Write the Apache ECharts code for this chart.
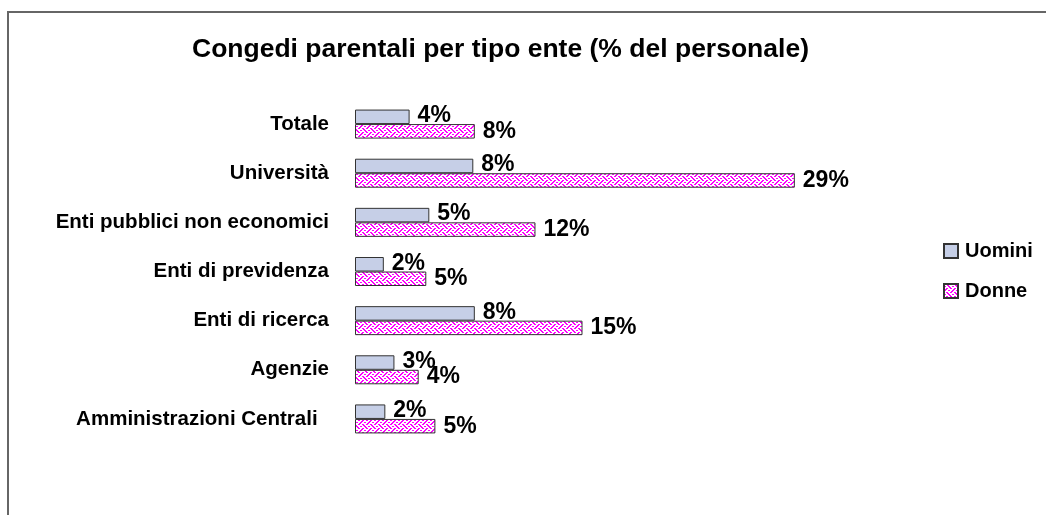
<!DOCTYPE html>
<html>
<head>
<meta charset="utf-8">
<style>
  html, body { margin: 0; padding: 0; background: #fff; }
  #chart { width: 1046px; height: 515px; }
</style>
<script src="https://cdn.jsdelivr.net/npm/echarts@6/dist/echarts.min.js"></script>
</head>
<body>
<div id="chart"></div>
<script>
// categorie, dall'alto verso il basso
const categories = ['Totale', 'Università', 'Enti pubblici non economici', 'Enti di previdenza', 'Enti di ricerca', 'Agenzie', 'Amministrazioni Centrali  '];
// valori in % del personale
const uomini = [3.6, 7.8, 4.9, 1.9, 7.9, 2.6, 2.0];
const donne = [7.9, 29.0, 11.9, 4.7, 15.0, 4.2, 5.3];
const seriesNames = ['Uomini', 'Donne'];

const FONT = "'Liberation Sans', Arial, sans-serif";

// trama "weave" (1 = bianco)
const WEAVE = [
    '10001000',
    '01000101',
    '00100010',
    '01010001',
    '10001000',
    '00010101',
    '00100010',
    '01010100'
];

function makePattern() {
    const c = document.createElement('canvas');
    c.width = 8;
    c.height = 8;
    const ctx = c.getContext('2d');
    ctx.fillStyle = '#ff00ff';
    ctx.fillRect(0, 0, 8, 8);
    ctx.fillStyle = '#ffffff';
    WEAVE.forEach((row, y) => {
        for (let x = 0; x < 8; x++) {
            if (row[x] === '1') {
                ctx.fillRect(x, y, 1, 1);
                ctx.fillRect((x + 1) % 8, y, 1, 1); // linee un po' piu' spesse
            }
        }
    });
    return c;
}

const pct = p => Math.round(p.value) + '%';

const chart = echarts.init(document.getElementById('chart'));
chart.setOption({
    animation: false,
    title: {
        text: 'Congedi parentali per tipo ente (% del personale)',
        left: 192,
        top: 36,
        padding: 0,
        textStyle: { fontFamily: FONT, fontSize: 26.5, fontWeight: 'bold', color: '#000' }
    },
    legend: {
        orient: 'vertical',
        left: 943,
        top: 241,
        padding: 0,
        icon: 'rect',
        itemWidth: 14,
        itemHeight: 14,
        itemGap: 20,
        textStyle: { fontFamily: FONT, fontSize: 20, fontWeight: 'bold', color: '#000', padding: [0, 0, 0, 2] },
        data: seriesNames
    },
    grid: { left: 355, top: 99.5, width: 455, height: 344, containLabel: false },
    xAxis: { type: 'value', min: 0, max: 30, show: false },
    yAxis: {
        type: 'category',
        inverse: true,
        data: categories,
        axisLine: { show: false },
        axisTick: { show: false },
        axisLabel: {
            margin: 26,
            fontFamily: FONT,
            fontSize: 20.5,
            fontWeight: 'bold',
            color: '#000',
            padding: [0, 0, 5, 0]
        }
    },
    graphic: [{
        type: 'rect',
        shape: { x: 8, y: 12, width: 1100, height: 600 },
        style: { fill: 'none', stroke: '#666', lineWidth: 2 },
        silent: true
    }],
    series: [{
        name: seriesNames[0],
        type: 'bar',
        data: uomini,
        barWidth: 14.5,
        barGap: '0%',
        itemStyle: { color: '#c6cfe7', borderColor: '#333', borderWidth: 1 },
        label: {
            show: true, position: 'right', distance: 8, offset: [0, -1],
            formatter: pct,
            fontFamily: FONT, fontSize: 23, fontWeight: 'bold', color: '#000'
        }
    }, {
        name: seriesNames[1],
        type: 'bar',
        data: donne,
        barWidth: 14.5,
        barGap: '0%',
        itemStyle: { color: { image: makePattern(), repeat: 'repeat' }, borderColor: '#333', borderWidth: 1 },
        label: {
            show: true, position: 'right', distance: 8,
            formatter: pct,
            fontFamily: FONT, fontSize: 23, fontWeight: 'bold', color: '#000'
        }
    }]
});
</script>
</body>
</html>
